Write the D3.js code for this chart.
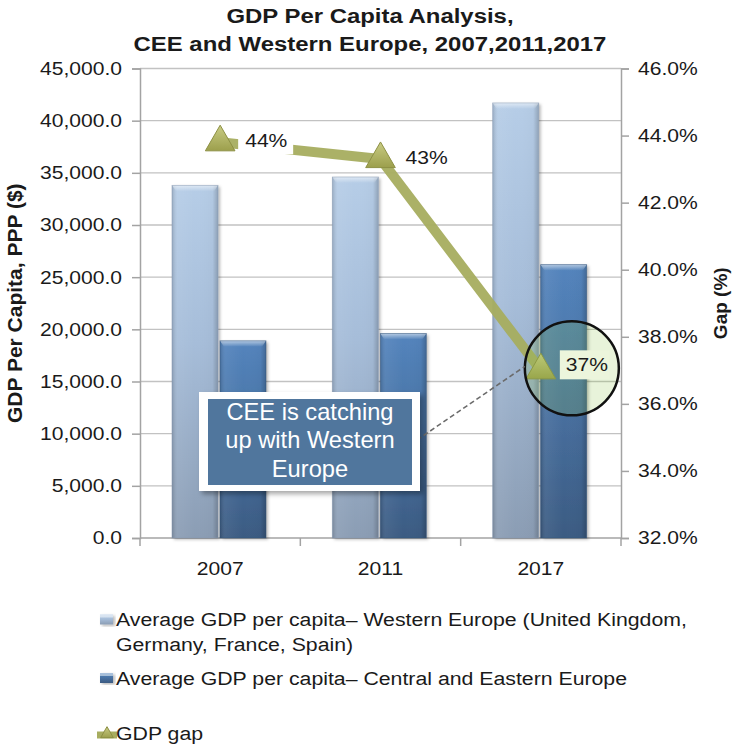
<!DOCTYPE html>
<html>
<head>
<meta charset="utf-8">
<script src="https://cdn.jsdelivr.net/npm/d3@7/dist/d3.min.js"></script>
<style>
  body { margin: 0; background: #fff; }
  svg { display: block; }
  text { font-family: "Liberation Sans", Arial, Helvetica, sans-serif; fill: #1a1a1a; }
</style>
</head>
<body>
<svg id="chart" width="737" height="750"></svg>
<script>
// ---- data ----
const years = ["2007", "2011", "2017"];
const westernEurope = [33800, 34600, 41700];   // GDP per capita, PPP ($)
const centralEastern = [18900, 19600, 26200];  // GDP per capita, PPP ($)
const gdpGap = [43.8, 43.3, 37.0];             // gap (%)
const leftTicks = [0, 5000, 10000, 15000, 20000, 25000, 30000, 35000, 40000, 45000];
const rightTicks = [32, 34, 36, 38, 40, 42, 44, 46];
const titleLines = ["GDP Per Capita Analysis,", "CEE and Western Europe, 2007,2011,2017"];
const leftAxisTitle = "GDP Per Capita, PPP ($)";
const rightAxisTitle = "Gap (%)";
const seriesNames = [
  ["Average GDP per capita\u2013 Western Europe (United Kingdom,", "Germany, France, Spain)"],
  ["Average GDP per capita\u2013 Central and Eastern Europe"],
  ["GDP gap"]
];
const calloutLines = ["CEE is catching", "up with Western", "Europe"];

// ---- layout ----
const plot = { left: 140, right: 621, top: 68.5, bottom: 538 };
const SX = 1.14; // horizontal text widening

const svg = d3.select("#chart");

function widen(sel, sx) {
  sel.each(function () {
    const t = d3.select(this);
    const x = +t.attr("x") || 0;
    t.attr("x", x / sx).attr("transform", `scale(${sx},1)`);
  });
  return sel;
}

// ---- scales ----
const x = d3.scaleBand().domain(years).range([plot.left, plot.right]);
const inner = d3.scaleBand().domain([0, 1]).range([32, 126]).paddingInner(0.04);
const yL = d3.scaleLinear().domain([0, 45000]).range([plot.bottom, plot.top]);
const yR = d3.scaleLinear().domain([32, 46]).range([plot.bottom, plot.top]);

// ---- defs ----
const defs = svg.append("defs");
function vGrad(id, stops) {
  const g = defs.append("linearGradient").attr("id", id)
    .attr("x1", 0).attr("y1", 0).attr("x2", 0).attr("y2", 1);
  stops.forEach(s => g.append("stop").attr("offset", s[0]).attr("stop-color", s[1]).attr("stop-opacity", s[2] ?? 1));
}
function hGrad(id, stops) {
  const g = defs.append("linearGradient").attr("id", id)
    .attr("x1", 0).attr("y1", 0).attr("x2", 1).attr("y2", 0);
  stops.forEach(s => g.append("stop").attr("offset", s[0]).attr("stop-color", s[1]).attr("stop-opacity", s[2] ?? 1));
}
vGrad("gWE", [["0%", "#b6cde7"], ["45%", "#a6bdd9"], ["100%", "#8b9db4"]]);
vGrad("gCEE", [["0%", "#5384bd"], ["45%", "#4a73a4"], ["100%", "#3b5b82"]]);
hGrad("gShade", [["0%", "#000", 0.16], ["12%", "#fff", 0.06], ["50%", "#fff", 0], ["88%", "#000", 0.02], ["100%", "#000", 0.2]]);
vGrad("gBevel", [["0%", "#fff", 0.55], ["100%", "#fff", 0]]);
vGrad("gMarker", [["0%", "#c9cc84"], ["100%", "#9c9f4c"]]);

const shadow = defs.append("filter").attr("id", "shadow")
  .attr("x", "-20%").attr("y", "-20%").attr("width", "140%").attr("height", "140%");
shadow.append("feDropShadow").attr("dx", 2).attr("dy", 1.5).attr("stdDeviation", 1.5)
  .attr("flood-color", "#000").attr("flood-opacity", 0.28);
const boxShadow = defs.append("filter").attr("id", "boxShadow")
  .attr("x", "-20%").attr("y", "-20%").attr("width", "140%").attr("height", "140%");
boxShadow.append("feDropShadow").attr("dx", 3).attr("dy", 3).attr("stdDeviation", 2.5)
  .attr("flood-color", "#000").attr("flood-opacity", 0.35);

// ---- gridlines ----
svg.append("g").selectAll("line").data(leftTicks.filter(d => d > 0)).join("line")
  .attr("x1", plot.left).attr("x2", plot.right)
  .attr("y1", d => yL(d)).attr("y2", d => yL(d))
  .attr("stroke", "#c2c2c2").attr("stroke-width", 1.3);

// ---- axes ----
const axisColor = "#a3a3a3";
const gL = svg.append("g").attr("transform", `translate(${plot.left},0)`)
  .call(d3.axisLeft(yL).tickValues(leftTicks).tickSize(8).tickPadding(10).tickFormat(d3.format(",.1f")));
const gR = svg.append("g").attr("transform", `translate(${plot.right},0)`)
  .call(d3.axisRight(yR).tickValues(rightTicks).tickSize(8).tickPadding(9).tickFormat(d => d.toFixed(1) + "%"));
const gB = svg.append("g").attr("transform", `translate(0,${plot.bottom})`)
  .call(d3.axisBottom(x).tickSize(0).tickPadding(24));
[gL, gR, gB].forEach(g => {
  g.select(".domain").attr("stroke", axisColor).attr("stroke-width", 1.5);
  g.selectAll(".tick line").attr("stroke", axisColor).attr("stroke-width", 1.5);
  g.selectAll(".tick text").attr("font-size", 18.5).attr("fill", "#1a1a1a")
    .style("font-family", '"Liberation Sans", Arial, sans-serif');
  widen(g.selectAll(".tick text"), SX);
});
gB.select(".domain").attr("d", `M${plot.left},0H${plot.right}`);
// category boundary ticks on the x axis
gB.selectAll("line.bound").data(years.map(d => x(d)).concat([x(years[years.length - 1]) + x.bandwidth()]))
  .join("line").attr("class", "bound")
  .attr("x1", d => d).attr("x2", d => d).attr("y1", 0).attr("y2", 8)
  .attr("stroke", axisColor).attr("stroke-width", 1.5);

// ---- bars ----
const barData = [];
years.forEach((yr, i) => {
  barData.push({ yr, s: 0, v: westernEurope[i] });
  barData.push({ yr, s: 1, v: centralEastern[i] });
});
const bars = svg.append("g").selectAll("g").data(barData).join("g")
  .attr("transform", d => `translate(${x(d.yr) + inner(d.s)},0)`);
bars.append("rect")
  .attr("y", d => yL(d.v)).attr("width", inner.bandwidth()).attr("height", d => plot.bottom - yL(d.v))
  .attr("fill", d => d.s === 0 ? "url(#gWE)" : "url(#gCEE)")
  .attr("filter", "url(#shadow)");
bars.append("rect")
  .attr("y", d => yL(d.v)).attr("width", inner.bandwidth()).attr("height", d => plot.bottom - yL(d.v))
  .attr("fill", "url(#gShade)");
bars.append("path")
  .attr("d", d => {
    const w = inner.bandwidth(), t = yL(d.v);
    return `M0,${t}H${w}L${w - 4},${t + 6}H4Z`;
  })
  .attr("fill", "url(#gBevel)");
bars.append("rect")
  .attr("y", d => yL(d.v)).attr("width", inner.bandwidth()).attr("height", d => plot.bottom - yL(d.v))
  .attr("fill", "none").attr("stroke", d => d.s === 0 ? "#8698b0" : "#36557a").attr("stroke-width", 0.8)
  .attr("stroke-opacity", 0.6);

// ---- gap line ----
const pts = years.map((yr, i) => ({ yr, v: gdpGap[i], cx: x(yr) + x.bandwidth() / 2, cy: yR(gdpGap[i]) }));
svg.append("path")
  .attr("d", d3.line().x(d => d.cx).y(d => d.cy)(pts))
  .attr("fill", "none").attr("stroke", "#a7ad5f").attr("stroke-width", 10)
  .attr("stroke-opacity", 0.95).attr("stroke-linejoin", "miter");

const tri = d3.symbol(d3.symbolTriangle, 380);
svg.append("g").selectAll("path").data(pts).join("path")
  .attr("transform", d => `translate(${d.cx},${d.cy})`)
  .attr("d", tri).attr("fill", "url(#gMarker)").attr("stroke", "#8d9044").attr("stroke-width", 1);

// ---- value labels ----
const fmtPct = d => d3.format(".0f")(d) + "%";
const labelG = svg.append("g");
pts.forEach((d, i) => {
  const last = i === pts.length - 1;
  if (!last) {
    labelG.append("rect")
      .attr("x", d.cx + 18).attr("y", d.cy - 14).attr("width", 55).attr("height", 26)
      .attr("fill", "#fff");
    widen(labelG.append("text").attr("x", d.cx + 25).attr("y", d.cy + 5)
      .attr("font-size", 18.5).text(fmtPct(d.v)), SX);
  }
});

// ---- highlight circle on the latest point ----
const lastPt = pts[pts.length - 1];
svg.append("circle")
  .attr("cx", lastPt.cx + 31).attr("cy", lastPt.cy - 2).attr("r", 47)
  .attr("fill", "rgb(140,195,70)").attr("fill-opacity", 0.2)
  .attr("stroke", "#111").attr("stroke-width", 2.5);
svg.append("rect")
  .attr("x", lastPt.cx + 19).attr("y", lastPt.cy - 20).attr("width", 50).attr("height", 29)
  .attr("fill", "#ecf5dc");
widen(svg.append("text").attr("x", lastPt.cx + 25).attr("y", lastPt.cy + 0.5)
  .attr("font-size", 18.5).text(fmtPct(lastPt.v)), SX);

// ---- callout ----
svg.append("line")
  .attr("x1", 417).attr("y1", 440).attr("x2", lastPt.cx - 16).attr("y2", lastPt.cy - 4)
  .attr("stroke", "#6b6b6b").attr("stroke-width", 1.6).attr("stroke-dasharray", "5,3");
const call = svg.append("g");
call.append("rect").attr("x", 199).attr("y", 392).attr("width", 221).attr("height", 99)
  .attr("fill", "#fff").attr("filter", "url(#boxShadow)");
call.append("rect").attr("x", 208).attr("y", 399).attr("width", 204).attr("height", 86)
  .attr("fill", "#50769d");
calloutLines.forEach((t, i) => {
  widen(call.append("text").attr("x", 310).attr("y", 420 + i * 28.5)
    .attr("text-anchor", "middle").attr("font-size", 23).style("fill", "#fff").text(t), 1.03);
});

// ---- titles ----
titleLines.forEach((t, i) => {
  widen(svg.append("text").attr("x", 370).attr("y", 23 + i * 28)
    .attr("text-anchor", "middle").attr("font-size", 21).attr("font-weight", "bold").text(t), SX);
});
svg.append("text")
  .attr("transform", `translate(22,${(plot.top + plot.bottom) / 2}) rotate(-90)`)
  .attr("text-anchor", "middle").attr("font-size", 21).attr("font-weight", "bold").text(leftAxisTitle);
svg.append("text")
  .attr("transform", `translate(727,${(plot.top + plot.bottom) / 2}) rotate(-90)`)
  .attr("text-anchor", "middle").attr("font-size", 19).attr("font-weight", "bold").text(rightAxisTitle);

// ---- legend ----
const leg = svg.append("g");
const legTextX = 116;
const legRows = [626.5, 685, 740];
[0, 1].forEach(s => {
  const y0 = legRows[s] - 12;
  leg.append("rect").attr("x", 100).attr("y", y0).attr("width", 13).attr("height", 10)
    .attr("fill", s === 0 ? "url(#gWE)" : "url(#gCEE)").attr("filter", "url(#shadow)");
  leg.append("rect").attr("x", 100).attr("y", y0).attr("width", 13).attr("height", 3)
    .attr("fill", "#fff").attr("fill-opacity", 0.5);
});
leg.append("line").attr("x1", 97).attr("x2", 117).attr("y1", legRows[2] - 5).attr("y2", legRows[2] - 5)
  .attr("stroke", "#a7ad5f").attr("stroke-width", 7);
leg.append("path").attr("transform", `translate(107,${legRows[2] - 6})`)
  .attr("d", d3.symbol(d3.symbolTriangle, 70)).attr("fill", "url(#gMarker)").attr("stroke", "#8d9044");
seriesNames.forEach((lines, s) => {
  lines.forEach((t, j) => {
    widen(leg.append("text").attr("x", legTextX).attr("y", legRows[s] + j * 25)
      .attr("font-size", 19).text(t), 1.12);
  });
});
</script>
</body>
</html>
